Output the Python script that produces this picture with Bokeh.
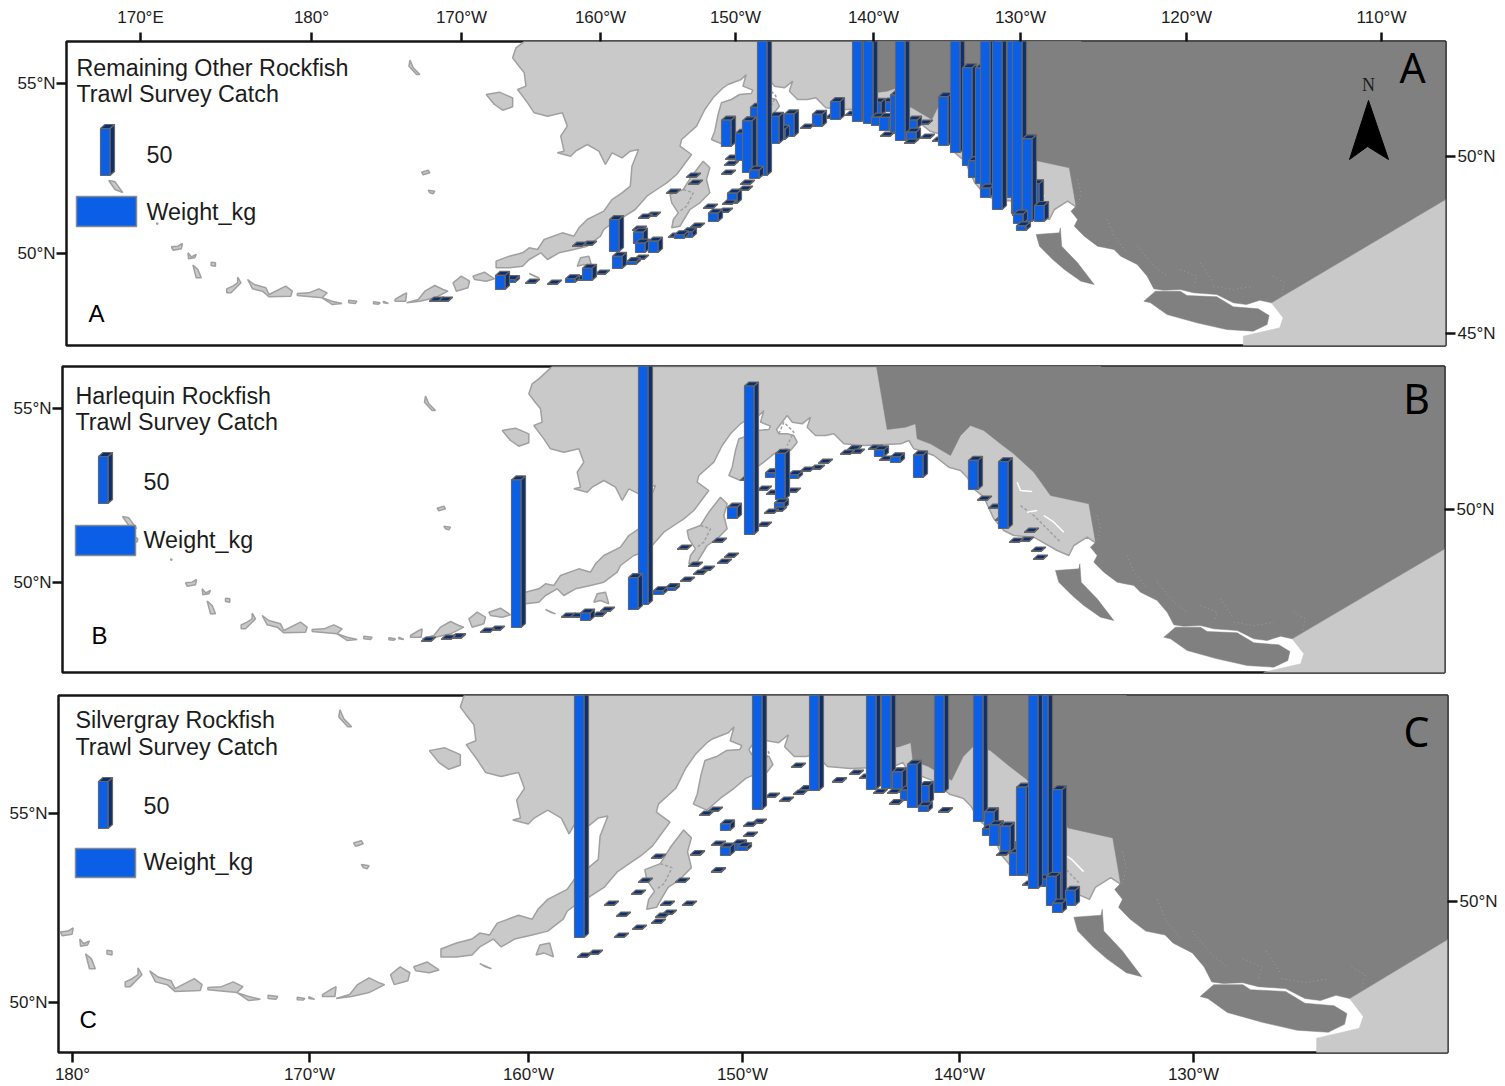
from bokeh.plotting import figure
from bokeh.layouts import column
from bokeh.models import Range1d, LinearAxis, FixedTicker
from bokeh.core.properties import value
from bokeh.embed import file_html
from bokeh.resources import INLINE

# ---------- map outlines (map units) ----------
alaska = [(155,33),(115,70),(95,85),(85,115),(100,135),(120,160),(125,200),(100,210),(130,250),(150,280),(190,290),(235,280),(250,320),(230,350),(240,395),(220,400),(260,410),(275,395),(310,375),(345,395),(365,435),(385,400),(415,415),(440,395),(465,390),(445,440),(440,500),(415,520),(385,540),(360,575),(310,600),(285,625),(270,650),(235,640),(180,660),(160,690),(135,685),(115,700),(75,710),(35,725),(35,745),(75,745),(115,740),(135,720),(170,700),(190,720),(225,700),(270,690),(310,680),(350,650),(360,630),(400,600),(415,595),(455,570),(490,530),(520,510),(550,490),(580,465),(625,405),(590,380),(595,360),(640,320),(665,270),(690,235),(720,205),(735,195),(775,180),(790,165),(780,200),(810,212),(805,222),(770,225),(745,240),(715,250),(705,285),(695,335),(685,360),(720,375),(755,345),(790,320),(820,295),(855,280),(870,285),(890,260),(880,240),(860,235),(835,235),(828,222),(860,180),(875,200),(905,205),(930,185),(920,215),(945,240),(975,240),(1000,235),(1030,265),(1090,270),(1140,268),(1200,265),(1225,255),(1240,280),(1260,285),(1300,300),(1345,335),(1380,345),(1400,365),(1420,400),(1450,425),(1480,490),(1510,525),(1540,540),(1600,545),(1670,585),(1705,600),(1720,570),(1760,545),(1790,565),(1800,33)]
canada = [(1128,33),(1160,222),(1215,215),(1245,205),(1250,250),(1290,265),(1350,300),(1380,240),(1410,210),(1450,225),(1500,265),(1540,295),(1600,350),(1650,420),(1765,445),(1780,530),(1785,560),(1770,575),(1790,600),(1780,620),(1810,650),(1850,680),(1900,690),(1920,710),(1970,735),(2000,770),(2020,808),(2050,812),(2100,810),(2140,820),(2210,825),(2260,850),(2300,855),(2340,842),(2375,850),(2950,511),(2950,33)]
usa = [(2375,850),(2950,511),(2950,1000),(2290,1000),(2290,950),(2400,925),(2410,895)]
vancouver = [(1990,845),(2025,815),(2100,815),(2120,828),(2210,832),(2260,862),(2335,868),(2368,888),(2362,915),(2320,935),(2240,930),(2150,910),(2060,885),(2010,850)]
haida = [(1665,645),(1735,640),(1738,625),(1742,680),(1790,730),(1840,795),(1800,785),(1750,750),(1715,720),(1675,680)]
light_islands = [
    [(560,525),(600,510),(625,470),(660,425),(680,445),(670,480),(680,520),(650,550),(620,570),(590,620),(565,625),(570,600),(585,580),(565,550)],
    [(5,225),(45,218),(85,235),(85,262),(55,272),(30,255)],
    [(-225,122),(-215,145),(-195,165),(-205,165),(-228,140)],
    [(-190,458),(-170,452),(-165,460),(-185,466)],
    [(-170,512),(-150,515),(-155,523),(-165,520)],
    [(-1134,483),(-1115,487),(-1092,519),(-1115,510)],
    [(-1095,545),(-1088,550),(-1090,560),(-1095,558)],
    [(-990,610),(-985,612),(-988,615)],
    [(-945,682),(-925,680),(-912,672),(-915,688),(-940,692)],
    [(-895,700),(-885,712),(-870,705),(-875,715),(-893,718)],
    [(-880,737),(-865,750),(-855,775),(-870,775)],
    [(-825,728),(-812,730),(-812,740),(-825,738)],
    [(-778,808),(-760,800),(-745,790),(-745,773),(-735,790),(-765,820),(-778,820)],
    [(-715,780),(-695,795),(-660,805),(-650,825),(-600,800),(-580,815),(-585,830),(-650,832),(-670,815),(-700,808)],
    [(-565,822),(-530,820),(-500,808),(-475,820),(-490,835),(-565,828)],
    [(-490,835),(-460,845),(-430,852),(-460,855)],
    [(-410,842),(-385,845),(-390,852),(-410,850)],
    [(-335,847),(-315,850),(-320,854),(-335,853)],
    [(-305,845),(-290,852),(-305,850)],
    [(-270,840),(-245,825),(-235,820),(-238,845),(-270,845)],
    [(-235,850),(-200,840),(-180,815),(-150,798),(-125,810),(-110,815),(-150,835),(-195,845)],
    [(-95,790),(-70,770),(-45,785),(-50,805),(-85,815)],
    [(-35,770),(0,758),(30,778),(5,785),(-30,780)],
    [(135,762),(165,775),(150,770)],
    [(280,740),(290,715),(315,710),(325,745),(300,735)],
]
channels = [
    [(1550,380),(1560,405),(1595,408)],
    [(1580,470),(1610,465)],
    [(1630,480),(1660,500),(1690,530)],
]
land_texture = [
    [(600,510),(630,520),(610,560),(590,575)],
    [(835,235),(850,200),(880,230),(860,270)],
    [(1560,450),(1600,480),(1640,520),(1680,560)],
]
speckles = [
    [(1790,480),(1800,520),(1790,560)],
    [(1880,600),(1900,650),(1940,700)],
    [(1970,680),(2020,740),(2060,770)],
    [(2100,750),(2150,770),(2140,800)],
    [(2200,800),(2260,810),(2320,800)],
    [(2380,770),(2415,790),(2405,830)],
    [(2160,730),(2200,790)],
]

# ---------- survey stations: x, y of base, catch weight in kg ----------
a_x = [429,438,495,505,525,547,565,575,582,595,612,626,634,609,572,582,638,646,632,633,635,648,668,674,682,690,703,708,718,722,727,738,740,721,686,688,666,725,724,721,735,742,750,757,749,769,775,784,800,812,825,830,845,852,863,871,882,871,879,880,890,895,907,906,904,918,920,932,938,950,962,968,975,980,980,992,1007,1011,1013,1016,1012,1022,1029,1034]
a_y = [301,301,289,282,283,284,282,280,280,274,268,264,259,251,246,245,218,216,230,243,252,252,237,238,237,227,208,221,212,204,203,190,184,174,177,184,193,159,165,146,160,172,150,175,178,143,139,136,128,126,118,119,115,121,123,115,111,125,130,136,133,140,128,141,143,124,138,141,145,152,165,177,183,188,197,209,197,213,223,230,215,221,220,221]
a_w = [.5,.5,15,3,.5,.5,4,1,13,.5,13,3,.5,34,.5,.5,.5,.5,.5,12,10,12,.5,4,6,.5,.5,9,.5,.5,11,.5,.5,.5,.5,.5,.5,.5,.5,28,29,55,46,300,9,29,11,24,.5,13,.5,19,.5,300,300,14,10,9,14,.5,41,300,9,10,.5,.5,.5,.5,52,300,104,18,123,300,10,300,300,16,10,5,300,88,39,17]

b_x = [421,441,451,480,490,511,561,570,580,592,600,628,638,653,665,680,693,700,717,724,677,688,712,727,744,757,740,764,772,775,774,757,766,786,765,788,800,810,818,840,850,847,868,874,879,890,913,968,998,977,988,995,1009,1019,1024,1031,1033]
b_y = [641,639,638,632,630,627,617,617,620,616,611,609,604,594,590,581,574,570,563,557,549,566,542,518,534,526,480,513,511,499,508,490,494,492,477,478,471,469,463,454,453,450,449,456,460,462,477,489,528,500,508,520,542,541,532,551,559]
b_w = [.5,.5,1,.5,.5,157,.5,.5,8,.5,.5,34,300,4,3,.5,.5,.5,.5,.5,.5,.5,.5,12,158,.5,.5,.5,.5,49,6,.5,.5,.5,5,4,.5,.5,.5,.5,.5,1,.5,7,.5,6,24,31,71,.5,.5,.5,.5,.5,.5,.5,.5]

c_x = [574,577,588,614,632,616,631,638,604,651,660,682,651,655,662,675,690,711,711,720,720,732,737,743,743,752,699,708,752,765,779,793,799,791,809,832,849,859,866,881,873,887,889,892,900,907,919,918,938,934,973,984,989,982,996,1000,1001,1009,1016,1028,1038,1037,1046,1052,1052,1065,1022]
c_y = [937,957,954,937,929,916,894,882,905,858,905,905,923,917,914,882,855,872,845,830,855,850,850,836,826,823,815,811,809,797,801,794,790,767,790,782,774,778,789,788,793,793,804,792,800,807,803,811,812,792,821,832,845,835,855,852,851,875,875,888,877,886,905,902,912,905,885]
c_w = [300,.5,.5,.5,.5,.5,.5,.5,.5,.5,.5,.5,.5,.5,.5,.5,1,1,.5,7,9,7,4,.5,.5,.5,.5,.5,300,.5,.5,.5,1,.5,300,1,.5,.5,300,300,.5,.5,1,22,11,46,19,6,1,300,300,22,22,7,.5,28,6,24,94,300,300,8,31,120,10,16,.5]

# ---------- tick labels ----------
a_top_ticks = [140,311,461,600,735,873,1020,1186,1381]
a_top_labels = ["170°E","180°","170°W","160°W","150°W","140°W","130°W","120°W","110°W"]
a_left_ticks, a_left_labels = [83,253], ["55°N","50°N"]
a_right_ticks, a_right_labels = [156,333], ["50°N","45°N"]
b_left_ticks, b_left_labels = [408,582], ["55°N","50°N"]
b_right_ticks, b_right_labels = [509], ["50°N"]
c_left_ticks, c_left_labels = [813,1002], ["55°N","50°N"]
c_right_ticks, c_right_labels = [901], ["50°N"]
c_bottom_ticks = [72,309,528,742,959,1193]
c_bottom_labels = ["180°","170°W","160°W","150°W","140°W","130°W"]

BLUE, NAVY, EDGE = "#0A5FE6", "#0D2F6E", "#666666"
LIGHT, LCOAST, DARK = "#C9C9C9", "#A0A0A0", "#808080"
TXT = "#1c1c1c"
KG_PX = 47 / 50
BAR_W, BAR_DX, BAR_DY = 9.5, 4.5, 4


def to_a(pt):
    x, y = 500 + pt[0] / 3, 355 + pt[1] / 3
    return (0.994 * x - 13, y - 336)

def to_b(pt):
    return (500 + pt[0] / 3, 355 + pt[1] / 3)

def to_c(pt):
    x, y = to_a(pt)
    return (60 + (x - 171) * 1.172, 931 + (y - 246) * 1.19)


def polys(p, shapes, tf, fill, line, lw):
    xs = [[tf(q)[0] for q in s] for s in shapes]
    ys = [[tf(q)[1] for q in s] for s in shapes]
    p.patches(xs, ys, fill_color=fill, line_color=line, line_width=lw)


def lines(p, shapes, tf, **kw):
    p.multi_line([[tf(q)[0] for q in s] for s in shapes],
                 [[tf(q)[1] for q in s] for s in shapes], **kw)


def bars(p, xs, ys, ws):
    order = sorted(range(len(xs)), key=lambda i: (ys[i], xs[i]))
    for i in order:
        x, y, top = xs[i], ys[i], ys[i] - ws[i] * KG_PX
        r = x + BAR_W
        q = [(x, y), (r, y), (r, top), (x, top)]
        s = [(r, y), (r + BAR_DX, y - BAR_DY), (r + BAR_DX, top - BAR_DY), (r, top)]
        t = [(x, top), (x + BAR_DX, top - BAR_DY), (r + BAR_DX, top - BAR_DY), (r, top)]
        # one patch each so that nearer stations overdraw farther ones
        p.patch([a for a, _ in s], [b for _, b in s], fill_color=NAVY, line_color=EDGE, line_width=1.2)
        p.patch([a for a, _ in t], [b for _, b in t], fill_color=NAVY, line_color=EDGE, line_width=1.2)
        p.patch([a for a, _ in q], [b for _, b in q], fill_color=BLUE, line_color=EDGE, line_width=1.2)


def axis(p, side, ticks, labels, out=10, standoff=1):
    ax = LinearAxis(ticker=FixedTicker(ticks=ticks),
                    major_label_overrides=dict(zip(ticks, labels)))
    ax.axis_line_color = None
    ax.minor_tick_line_color = None
    ax.major_tick_in = 0
    ax.major_tick_out = out
    ax.major_tick_line_width = 2.5
    ax.major_tick_line_color = "#111111"
    ax.major_label_standoff = standoff
    ax.major_label_text_font = "Liberation Sans"
    ax.major_label_text_font_size = "17px"
    ax.major_label_text_color = TXT
    if side in ("left", "right"):
        ax.major_label_orientation = "horizontal"
    p.add_layout(ax, side)


def label(p, x, y, txt, size="23.3px", font="Liberation Sans", color=TXT, align="left"):
    p.text([x], [y], text=[txt], text_font=value(font), text_font_size=size,
           text_color=color, text_baseline="middle", text_align=align)


def panel(frame, borders, height, tf, xs, ys, ws, title, leg, small, big):
    l, r, t, b = frame
    p = figure(width=1505, height=height, x_range=Range1d(l, r), y_range=Range1d(b, t),
               output_backend="svg", toolbar_location=None,
               x_axis_location=None, y_axis_location=None,
               min_border_left=borders[0], min_border_right=borders[1],
               min_border_top=borders[2], min_border_bottom=borders[3])
    p.frame_align = False
    p.grid.grid_line_color = None
    p.outline_line_color = "#161616"
    p.outline_line_width = 2.5
    p.background_fill_color = "white"
    p.border_fill_color = "white"

    polys(p, [alaska] + light_islands, tf, LIGHT, LCOAST, 1.5)
    lines(p, land_texture, tf, line_color=LCOAST, line_width=1.5, line_dash="3 2")
    polys(p, [usa], tf, LIGHT, LIGHT, 0.5)
    polys(p, [canada, vancouver, haida], tf, DARK, DARK, 0.5)
    lines(p, channels, tf, line_color="white", line_width=1.5)
    lines(p, speckles, tf, line_color="#9C9C9C", line_width=1, line_dash="1 3")
    bars(p, xs, ys, ws)

    tx, ty1, ty2, bx, by, lx, ly, rx, ry0, ry1, wy = leg
    label(p, tx, ty1, title)
    label(p, tx, ty2, "Trawl Survey Catch")
    bars(p, [bx], [by], [50])
    label(p, lx, ly, "50")
    p.quad(left=[rx], right=[rx + 60], top=[ry0], bottom=[ry1],
           fill_color=BLUE, line_color="#8A8A8A", line_width=1.5)
    label(p, lx, wy, "Weight_kg")
    label(p, small[0], small[1], small[2], size="24px", color="black")
    label(p, big[0], big[1], big[2], size="41px", font="Noto Sans", color="black", align="center")
    return p


pa = panel((66, 1445, 41, 345), (66, 60, 41, 10), 355, to_a, a_x, a_y, a_w,
           "Remaining Other Rockfish", (76, 67, 93, 100, 175, 146, 154, 76, 196, 226, 211),
           (88, 313, "A"), (1412, 66, "A"))
axis(pa, "above", a_top_ticks, a_top_labels, out=9, standoff=6)
axis(pa, "left", a_left_ticks, a_left_labels)
axis(pa, "right", a_right_ticks, a_right_labels, standoff=2)
pa.patch([1368, 1349, 1367, 1388], [100, 159, 146, 159], fill_color="black", line_color="black")
label(pa, 1368, 84, "N", size="18px", font="Liberation Serif", align="center")

pb = panel((62, 1444, 366, 672), (62, 61, 11, 11), 328, to_b, b_x, b_y, b_w,
           "Harlequin Rockfish", (75, 395, 421, 98, 503, 143, 481, 75, 525, 555, 539),
           (91, 635, "B"), (1416, 397, "B"))
axis(pb, "left", b_left_ticks, b_left_labels)
axis(pb, "right", b_right_ticks, b_right_labels, standoff=2)

pc = panel((58, 1447, 695, 1052), (58, 58, 12, 34), 403, to_c, c_x, c_y, c_w,
           "Silvergray Rockfish", (75, 719, 746, 98, 828, 143, 805, 75, 848, 877, 861),
           (79, 1019, "C"), (1416, 730, "C"))
axis(pc, "left", c_left_ticks, c_left_labels)
axis(pc, "right", c_right_ticks, c_right_labels, standoff=2)
axis(pc, "below", c_bottom_ticks, c_bottom_labels, out=10, standoff=2)

layout = column(pa, pb, pc, spacing=0)
open("out.html", "w").write(file_html(layout, INLINE))
